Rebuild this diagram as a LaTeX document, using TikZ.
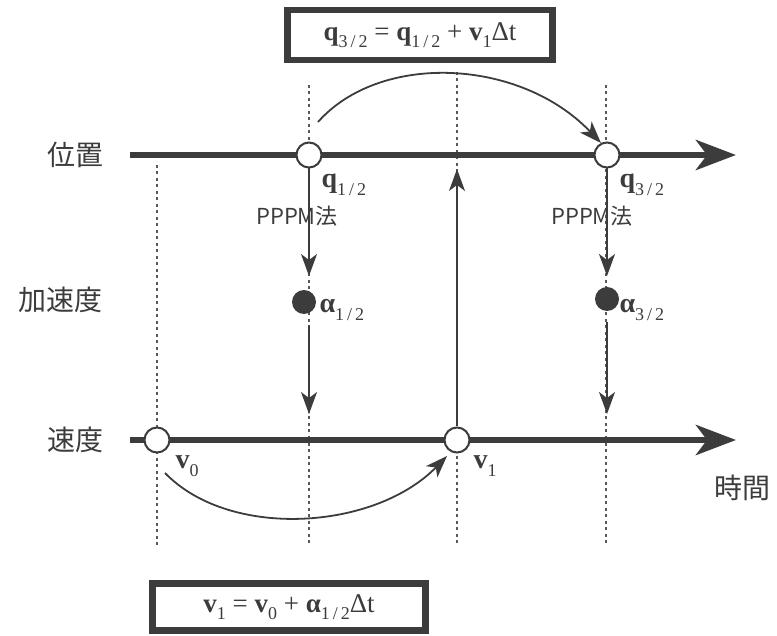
\documentclass[tikz,border=0pt]{standalone}
\usepackage{fontspec}
\newfontfamily\jp{Noto Sans CJK JP}
\setmainfont{Liberation Serif}
\usetikzlibrary{arrows.meta}
\definecolor{ink}{HTML}{3C3C3C}
\newcommand{\subx}[1]{\raisebox{-0.28em}{\fontsize{18}{18}\selectfont #1}}
\newcommand{\bq}{\textbf{q}}
\newcommand{\bv}{\textbf{v}}
\newcommand{\ba}{\textbf{α}}
\begin{document}
\begin{tikzpicture}[x=1pt,y=-1pt,
  axis/.style={draw=ink,line width=6.5pt,-{Stealth[length=40pt,width=30pt,inset=11pt]}},
  guide/.style={draw=ink!85,line width=1.3pt,dash pattern=on 3pt off 3.5pt},
  flow/.style={draw=ink,line width=1.8pt,-{Stealth[length=22pt,width=16pt,inset=6pt]}},
  hollow/.style={circle,draw=ink,line width=2pt,fill=white,minimum size=25pt,inner sep=0pt},
  solid/.style={circle,fill=ink,minimum size=24pt,inner sep=0pt},
  eqbox/.style={draw=ink,line width=6.5pt,fill=white,inner xsep=18pt,inner ysep=6pt,text=ink,font=\fontsize{27}{30}\selectfont},
  lab/.style={text=ink,font=\jp\fontsize{28}{32}\selectfont},
  small/.style={text=ink,font=\jp\fontsize{22}{26}\selectfont},
  sym/.style={text=ink,font=\fontsize{28}{32}\selectfont}
]
\useasboundingbox (0,0) rectangle (777,636);

% guide lines
\coordinate (g0t) at (157,165); \coordinate (g0b) at (157,545);
\coordinate (g1t) at (309,85);  \coordinate (g1b) at (309,545);
\coordinate (g2t) at (457,72);  \coordinate (g2b) at (457,545);
\coordinate (g3t) at (606,85);  \coordinate (g3b) at (606,545);
\draw[guide] (g0t) -- (g0b);
\draw[guide] (g1t) -- (g1b);
\draw[guide] (g2t) -- (g2b);
\draw[guide] (g3t) -- (g3b);

% axes
\coordinate (pS) at (130,155); \coordinate (pE) at (736,155);
\coordinate (vS) at (130,440); \coordinate (vE) at (736,440);
\draw[axis] (pS) -- (pE);
\draw[axis] (vS) -- (vE);

% nodes on axes
\node[hollow] (q12) at (309,155) {};
\node[hollow] (q32) at (607,155) {};
\node[hollow] (v0) at (157,440) {};
\node[hollow] (v1) at (457,440) {};
\node[solid] (a12) at (304,302) {};
\node[solid] (a32) at (607,299) {};

% labels
\node[lab] (lpos) at (75,155) {位置};
\node[lab] (lacc) at (61,300) {加速度};
\node[lab] (lvel) at (75,440) {速度};
\node[lab] (ltime) at (742,488) {時間};
\node[small] (pp1) at (297,216) {PPPM法};
\node[small] (pp2) at (592,216) {PPPM法};
\node[sym,anchor=west] (lq12) at (318,185) {\bq\subx{1\,/\,2}};
\node[sym,anchor=west] (lq32) at (616,185) {\bq\subx{3\,/\,2}};
\node[sym,anchor=west] (la12) at (316,310) {\ba\subx{1\,/\,2}};
\node[sym,anchor=west] (la32) at (616,310) {\ba\subx{3\,/\,2}};
\node[sym,anchor=west] (lv0) at (172,466) {\bv\subx{0}};
\node[sym,anchor=west] (lv1) at (470,466) {\bv\subx{1}};

% vertical arrows
\coordinate (d1a) at (309,276); \coordinate (d1b) at (309,326); \coordinate (d1c) at (309,414);
\coordinate (d3a) at (607,276); \coordinate (d3b) at (607,322); \coordinate (d3c) at (607,414);
\draw[flow] (q12) -- (d1a);
\draw[flow] (d1b) -- (d1c);
\draw[flow] (q32) -- (d3a);
\draw[flow] (d3b) -- (d3c);
\coordinate (u1) at (457,169);
\draw[flow] (v1) -- (u1);

% boxes
\node[eqbox,minimum width=265pt,minimum height=50pt] (top) at (420,35) {\bq\subx{3\,/\,2} = \bq\subx{1\,/\,2} + \bv\subx{1}Δt};
\node[eqbox,minimum width=273pt,minimum height=47pt] (bot) at (289,607) {\bv\subx{1} = \bv\subx{0} + \ba\subx{1\,/\,2}Δt};

% curved arrows
\coordinate (c1s) at (318,122); \coordinate (c1e) at (601,143);
\draw[flow] (c1s) .. controls (380,52) and (520,58) .. (c1e);
\coordinate (c2s) at (165,473); \coordinate (c2e) at (447,456);
\draw[flow] (c2s) .. controls (230,540) and (375,530) .. (c2e);
\end{tikzpicture}
\end{document}
